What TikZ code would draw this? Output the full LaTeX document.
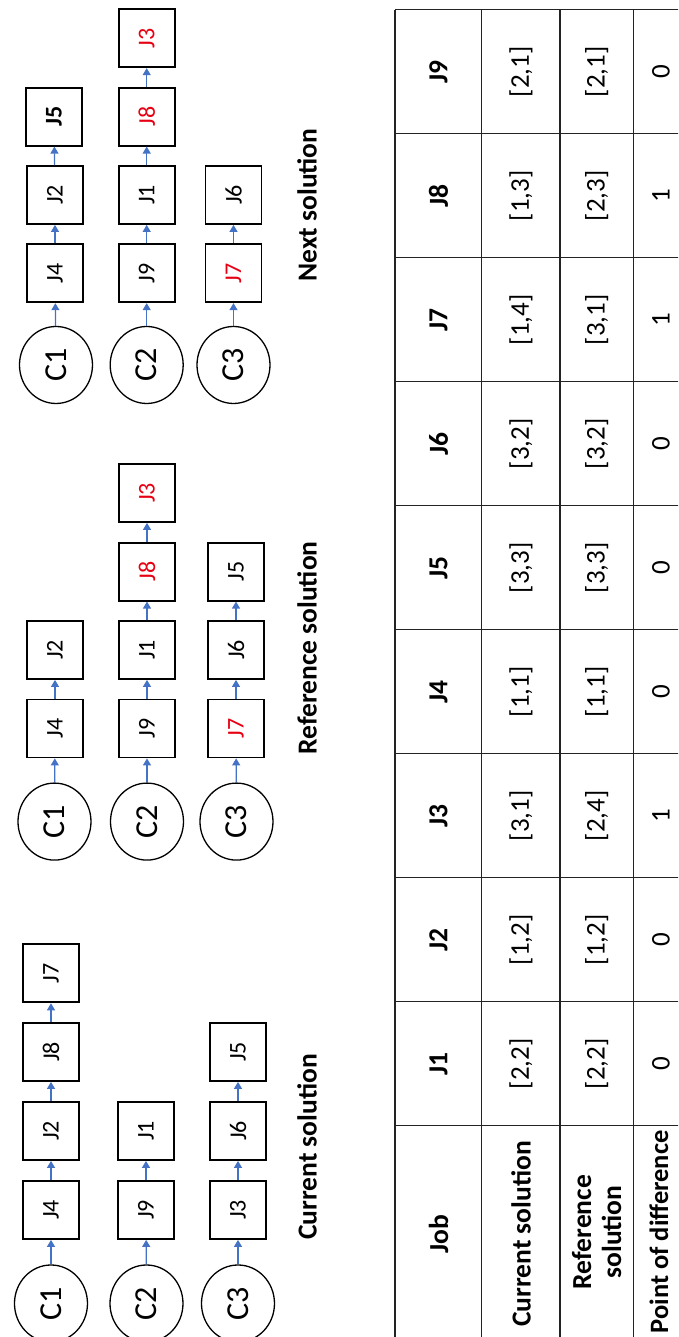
\documentclass[tikz,border=0pt]{standalone}
\usepackage{fontspec}
\setmainfont{Carlito}
\definecolor{linkblue}{RGB}{68,114,196}
\definecolor{jobred}{RGB}{230,0,18}
\definecolor{gridgray}{RGB}{35,35,35}
\usetikzlibrary{arrows.meta,shapes.geometric}

\begin{document}
\begin{tikzpicture}[rotate=90, transform shape, x=1pt, y=1pt,
  mach/.style={draw, ellipse, line width=1.3pt, minimum width=77pt, minimum height=73pt, inner sep=0pt, font=\fontsize{32}{34}\selectfont},
  jobbox/.style={draw, line width=1.8pt, minimum width=58pt, minimum height=56pt, inner sep=0pt, font=\fontsize{24}{26}\selectfont},
  changed/.style={text=jobred},
  link/.style={-{Triangle[length=7pt,width=8pt]}, linkblue, line width=1.2pt},
  caption/.style={font=\fontsize{27.5}{30}\selectfont\bfseries},
  cell/.style={font=\fontsize{27}{30}\selectfont},
  headcell/.style={font=\fontsize{27.5}{30}\selectfont\bfseries, align=center}]
\useasboundingbox (0,0) rectangle (1337,678);
\clip (0,0) rectangle (1337,678);
% Current solution
\node[mach] (cC1) at (33.5,627) {C1};
\node[mach] (cC2) at (33.5,531.5) {C2};
\node[mach] (cC3) at (33.5,440) {C3};
\node[jobbox] (cJ4) at (127,627) {J4};
\node[jobbox] (cJ2) at (206,627) {J2};
\node[jobbox] (cJ8) at (285,627) {J8};
\node[jobbox] (cJ7) at (363.6,627) {J7};
\node[jobbox] (cJ9) at (127,532) {J9};
\node[jobbox] (cJ1) at (206,532) {J1};
\node[jobbox] (cJ3) at (127,440) {J3};
\node[jobbox] (cJ6) at (206,440) {J6};
\node[jobbox] (cJ5) at (285,440) {J5};
\node[caption] (capcur) at (190,371) {Current solution};
% Reference solution
\node[mach] (rC1) at (515.4,623.5) {C1};
\node[mach] (rC2) at (515.4,531) {C2};
\node[mach] (rC3) at (515.4,441.5) {C3};
\node[jobbox] (rJ4) at (608.5,623) {J4};
\node[jobbox] (rJ2) at (687,623) {J2};
\node[jobbox] (rJ9) at (608.5,531) {J9};
\node[jobbox] (rJ1) at (687,531) {J1};
\node[jobbox, changed] (rJ8) at (765.3,531) {J8};
\node[jobbox, changed] (rJ3) at (844,531) {J3};
\node[jobbox, changed] (rJ7) at (608.5,442) {J7};
\node[jobbox] (rJ6) at (687,442) {J6};
\node[jobbox] (rJ5) at (765.3,442) {J5};
\node[caption] (capref) at (689,371) {Reference solution};
% Next solution
\node[mach] (nC1) at (972,622) {C1};
\node[mach] (nC2) at (972,531.3) {C2};
\node[mach] (nC3) at (972,444.5) {C3};
\node[jobbox] (nJ4) at (1063.7,623) {J4};
\node[jobbox] (nJ2) at (1142,623) {J2};
\node[jobbox, font=\fontsize{24}{26}\selectfont\bfseries] (nJ5) at (1220.3,624) {J5};
\node[jobbox] (nJ9) at (1063.7,531.3) {J9};
\node[jobbox] (nJ1) at (1142,531.3) {J1};
\node[jobbox, changed] (nJ8) at (1220.3,531.3) {J8};
\node[jobbox, changed] (nJ3) at (1298.7,531.3) {J3};
\node[jobbox, changed] (nJ7) at (1063.7,444.5) {J7};
\node[jobbox] (nJ6) at (1142,444.5) {J6};
\node[caption] (capnext) at (1132,371) {Next solution};
% Sequence arrows
\foreach \a/\b in {cC1/cJ4, cJ4/cJ2, cJ2/cJ8, cJ8/cJ7, cC2/cJ9, cJ9/cJ1, cC3/cJ3, cJ3/cJ6, cJ6/cJ5,
    rC1/rJ4, rJ4/rJ2, rC2/rJ9, rJ9/rJ1, rJ1/rJ8, rJ8/rJ3, rC3/rJ7, rJ7/rJ6, rJ6/rJ5,
    nC1/nJ4, nJ4/nJ2, nJ2/nJ5, nC2/nJ9, nJ9/nJ1, nJ1/nJ8, nJ8/nJ3, nC3/nJ7, nJ7/nJ6}
  \draw[link] (\a) -- (\b);
% Comparison table
\foreach \y in {282.7,196.3,118,44.7,-13}
  \draw[gridgray, line width=1.6pt] (-5,\y) -- (1327.3,\y);
\foreach \x in {-5,211.3,335.3,459.3,583.3,707.3,831.3,955.3,1079.3,1203.3,1327.3}
  \draw[gridgray, line width=1.6pt] (\x,-13) -- (\x,282.7);
\node[headcell] (hjob) at (103,239.5) {Job};
\node[headcell] (hcur) at (103,157) {Current solution};
\node[headcell] (href) at (105,81.4) {Reference\\solution};
\node[headcell, font=\fontsize{26.5}{30}\selectfont\bfseries] (hpod) at (105,19) {Point of difference};
\foreach \j/\cur/\ref/\pod [count=\k] in {J1/{[2,2]}/{[2,2]}/0, J2/{[1,2]}/{[1,2]}/0, J3/{[3,1]}/{[2,4]}/1,
    J4/{[1,1]}/{[1,1]}/0, J5/{[3,3]}/{[3,3]}/0, J6/{[3,2]}/{[3,2]}/0, J7/{[1,4]}/{[3,1]}/1,
    J8/{[1,3]}/{[2,3]}/1, J9/{[2,1]}/{[2,1]}/0} {
  \node[headcell] (job\k) at (273.3+124*\k-124,239.5) {\j};
  \node[cell] (cur\k) at (273.3+124*\k-124,157) {\cur};
  \node[cell] (ref\k) at (273.3+124*\k-124,81.4) {\ref};
  \node[cell] (pod\k) at (273.3+124*\k-124,17) {\pod};
}
\end{tikzpicture}
\end{document}
